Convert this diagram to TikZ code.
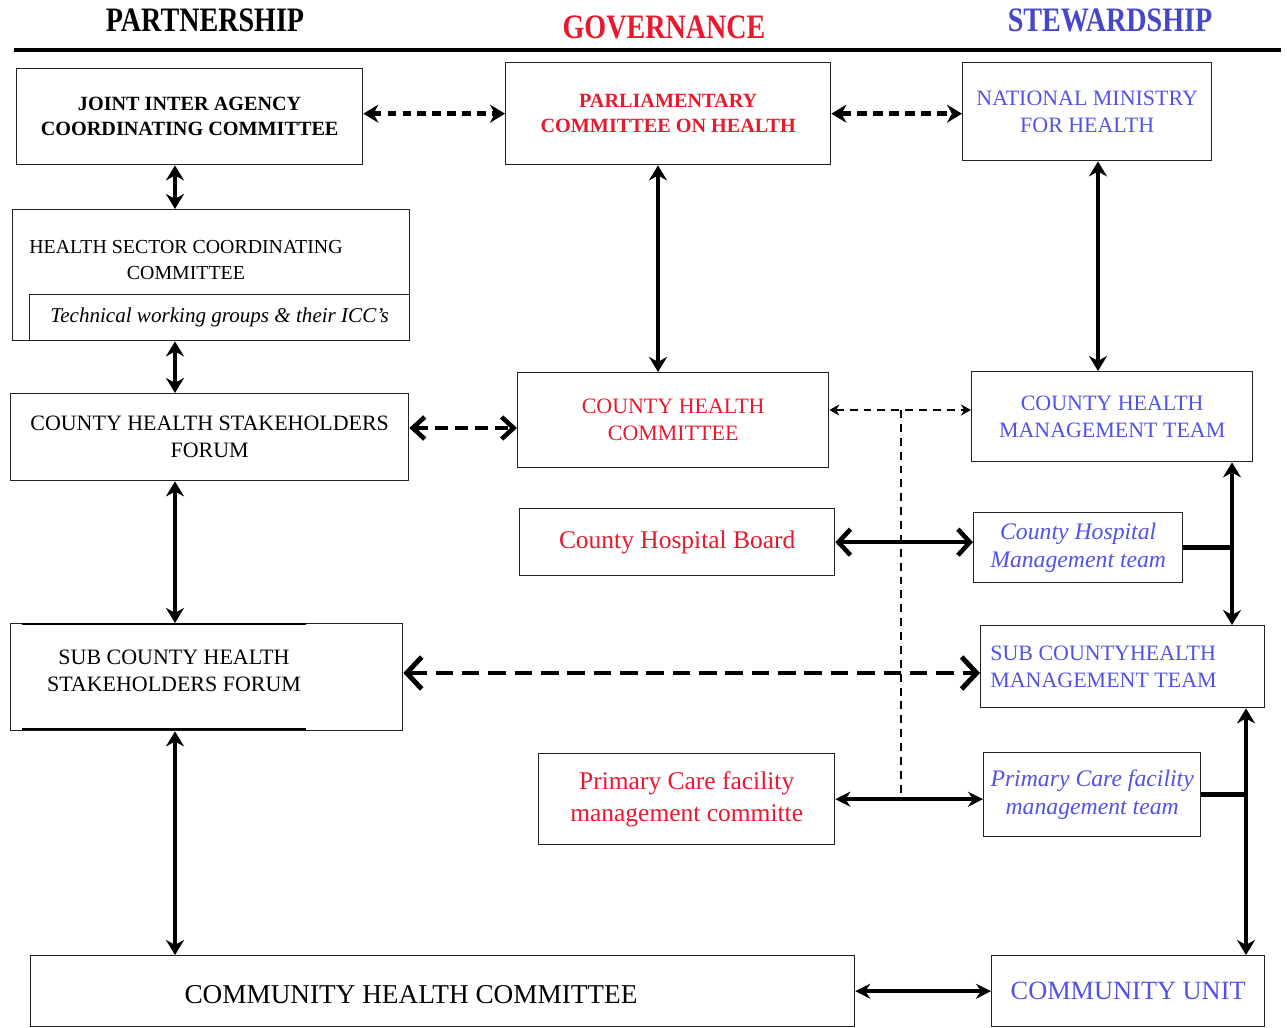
\documentclass[tikz,border=0pt]{standalone}
\usepackage{fontspec}
\setmainfont{Liberation Serif}
\newfontfamily\headfont[FakeStretch=0.82]{Liberation Serif}
\usepackage{xcolor}
\usepackage{tikz}
\usetikzlibrary{arrows.meta}
\definecolor{govred}{HTML}{E8192C}
\definecolor{stewblue}{HTML}{4646C8}
\definecolor{textblue}{HTML}{5252E6}
\definecolor{frame}{HTML}{222222}
\newcommand{\sz}[2]{\fontsize{#1}{#2}\selectfont}

\begin{document}
\begin{tikzpicture}[x=0.02cm, y=-0.02cm,
  box/.style={draw=frame, line width=0.8pt, anchor=north west, align=center, inner sep=2pt},
  txt/.style={align=center, inner sep=0pt},
  head/.style={font=\headfont\bfseries\sz{19.5}{22}},
  caps/.style={font=\sz{12.5}{15.5}},
  boldcaps/.style={font=\bfseries\sz{11.5}{14}},
  big/.style={font=\sz{14.5}{18}},
  ital/.style={font=\itshape\sz{13.5}{16}},
  vert/.style={<->, >={Stealth[length=3mm,width=3.6mm]}, line width=2.3pt},
  solidarr/.style={<->, >={Stealth[length=3mm,width=3mm]}, line width=2.3pt},
  barb/.style={<->, >={Straight Barb[length=2.4mm,width=5.2mm]}, line width=2.6pt},
  dotarr/.style={<->, >={Stealth[length=3mm,width=3.6mm]}, line width=2.8pt, dash pattern=on 5pt off 3.5pt},
  dasharr/.style={<->, >={Stealth[length=3mm,width=3.6mm]}, line width=2.8pt, dash pattern=on 5.7pt off 3.4pt},
  dashbarb/.style={<->, >={Straight Barb[length=2.4mm,width=4.4mm]}, line width=2.6pt, dash pattern=on 7.4pt off 4pt},
  bigdash/.style={<->, >={Straight Barb[length=3mm,width=6.4mm]}, line width=2.8pt, dash pattern=on 10pt off 5pt},
  thindash/.style={<->, >={Stealth[length=2mm,width=2.2mm]}, line width=0.6pt, dash pattern=on 4.5pt off 3.4pt},
  thinline/.style={line width=0.6pt, dash pattern=on 4.5pt off 3.4pt},
  joinline/.style={line width=2.6pt}
]
\useasboundingbox (0,0) rectangle (1287,1027);

% column headings
\node[head] (hpart) at (205,20) {PARTNERSHIP};
\node[head, text=govred] (hgov) at (664,27) {GOVERNANCE};
\node[head, text=stewblue] (hstew) at (1110,20) {STEWARDSHIP};
\draw[line width=2.8pt] (14,50) -- (1281,50);

% partnership
\node[box, boldcaps, minimum width=6.92cm, minimum height=1.92cm] (jiacc) at (16,68) {JOINT INTER AGENCY\\COORDINATING COMMITTEE};
\node[box, minimum width=7.94cm, minimum height=2.62cm] (hscc) at (12,209) {};
\node[txt, font=\sz{11.3}{14.7}] (hscctxt) at (186,260) {HEALTH SECTOR COORDINATING\\COMMITTEE};
\node[box, font=\itshape\sz{12}{14}, minimum width=7.6cm, minimum height=0.92cm] (twg) at (29,294) {Technical working groups \& their ICC's};
\node[box, caps, minimum width=7.96cm, minimum height=1.74cm] (chsf) at (10,393) {COUNTY HEALTH STAKEHOLDERS\\FORUM};
\node[box, minimum width=7.84cm, minimum height=2.14cm] (schsf) at (10,623) {};
\node[txt, caps] (schsftxt) at (174,671) {SUB COUNTY HEALTH\\STAKEHOLDERS FORUM};
\draw[line width=1.5pt] (22,624) -- (306,624) (22,729) -- (306,729);
\node[box, minimum width=16.48cm, minimum height=1.42cm] (chc) at (30,955) {};
\node[txt, font=\sz{15.5}{18}] (chctxt) at (411,995) {COMMUNITY HEALTH COMMITTEE};

% governance
\node[box, boldcaps, text=govred, minimum width=6.5cm, minimum height=2.04cm] (pch) at (505,62) {PARLIAMENTARY\\COMMITTEE ON HEALTH};
\node[box, caps, text=govred, minimum width=6.22cm, minimum height=1.9cm] (chcom) at (517,372) {COUNTY HEALTH\\COMMITTEE};
\node[box, big, text=govred, minimum width=6.3cm, minimum height=1.34cm] (chb) at (519,508) {County Hospital Board};
\node[box, big, text=govred, minimum width=5.92cm, minimum height=1.82cm] (pcfmc) at (538,753) {Primary Care facility\\management committe};

% stewardship
\node[box, caps, text=textblue, minimum width=4.98cm, minimum height=1.96cm] (nmh) at (962,62) {NATIONAL MINISTRY\\FOR HEALTH};
\node[box, caps, text=textblue, minimum width=5.62cm, minimum height=1.8cm] (chmt) at (971,371) {COUNTY HEALTH\\MANAGEMENT TEAM};
\node[box, ital, text=textblue, minimum width=4.18cm, minimum height=1.4cm] (chmtm) at (973,512) {County Hospital\\Management team};
\node[box, minimum width=5.68cm, minimum height=1.64cm] (schmt) at (980,625) {};
\node[txt, caps, text=textblue, align=left, anchor=west] (schmttxt) at (990,667) {SUB COUNTYHEALTH\\MANAGEMENT TEAM};
\node[box, ital, text=textblue, minimum width=4.34cm, minimum height=1.68cm] (pcfmt) at (983,752) {Primary Care facility\\management team};
\node[box, text=textblue, font=\sz{15}{18}, minimum width=5.46cm, minimum height=1.42cm] (cu) at (991,955) {COMMUNITY UNIT};

\coordinate (pcol) at (175,0);
\coordinate (gcol) at (658,0);
\coordinate (scol) at (1098,0);
\coordinate (rcolA) at (1232,0);
\coordinate (rcolB) at (1246,0);
\coordinate (dcol) at (901,0);
\coordinate (rowA) at (0,410);
\coordinate (rowB) at (0,428);
\coordinate (rowC) at (0,673);

\draw[dotarr] (pch.west -| jiacc.east) -- (pch.west);
\draw[dasharr] (pch.east) -- (pch.east -| nmh.west);
\draw[vert] (jiacc.south -| pcol) -- (hscc.north -| pcol);
\draw[vert] (hscc.south -| pcol) -- (chsf.north -| pcol);
\draw[vert] (chsf.south -| pcol) -- (schsf.north -| pcol);
\draw[vert] (schsf.south -| pcol) -- (chc.north -| pcol);
\draw[vert] (pch.south -| gcol) -- (chcom.north -| gcol);
\draw[vert] (nmh.south -| scol) -- (chmt.north -| scol);
\draw[dashbarb] (chsf.east |- rowB) -- (chcom.west |- rowB);
\draw[thindash] (chcom.east |- rowA) -- (chmt.west |- rowA);
\draw[thinline] (dcol |- rowA) -- (dcol |- pcfmc.east);
\draw[barb] (chb.east) -- (chb.east -| chmtm.west);
\draw[bigdash] (schsf.east |- rowC) -- (schmt.west |- rowC);
\draw[solidarr] (pcfmc.east) -- (pcfmc.east -| pcfmt.west);
\draw[solidarr] (chc.east) -- (chc.east -| cu.west);
\draw[vert] (chmt.south -| rcolA) -- (schmt.north -| rcolA);
\draw[joinline] (chmtm.east) -- (chmtm.east -| rcolA);
\draw[vert] (schmt.south -| rcolB) -- (cu.north -| rcolB);
\draw[joinline] (pcfmt.east) -- (pcfmt.east -| rcolB);
\end{tikzpicture}
\end{document}
